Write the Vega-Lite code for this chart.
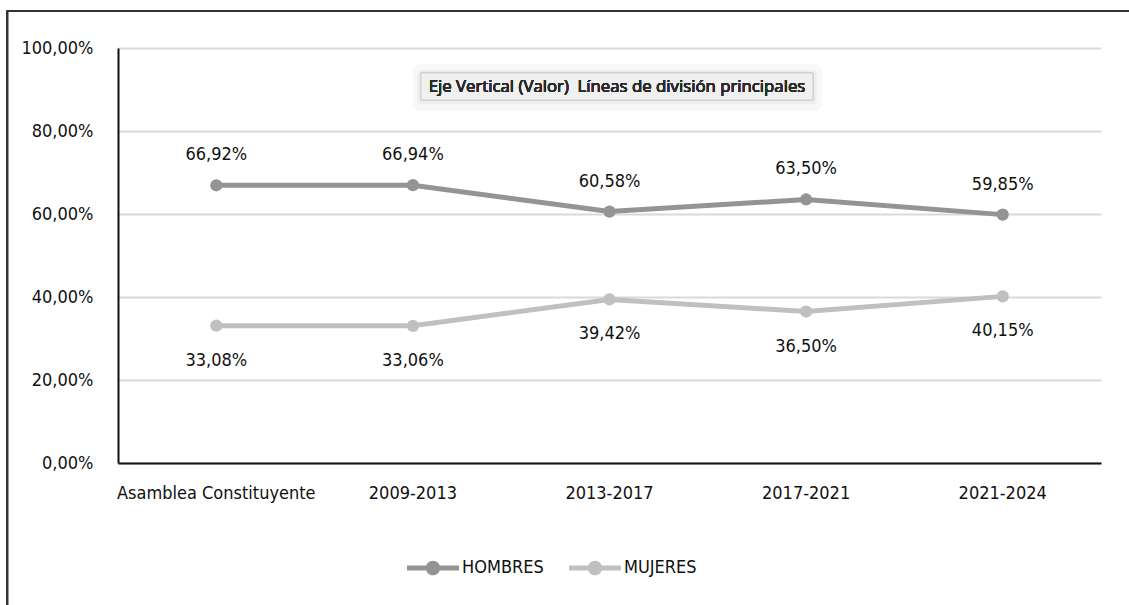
{
  "$schema": "https://vega.github.io/schema/vega-lite/v6.json",
  "width": 983,
  "height": 415,
  "autosize": "none",
  "padding": {"left": 118, "top": 48, "right": 28, "bottom": 142},
  "background": "white",
  "config": {
    "view": {"stroke": null},
    "font": "DejaVu Sans Condensed, Liberation Sans Narrow, sans-serif"
  },
  "datasets": {
    "serie": [
      {"periodo": "Asamblea Constituyente", "sexo": "HOMBRES", "valor": 66.92, "etiqueta": "66,92%"},
      {"periodo": "2009-2013", "sexo": "HOMBRES", "valor": 66.94, "etiqueta": "66,94%"},
      {"periodo": "2013-2017", "sexo": "HOMBRES", "valor": 60.58, "etiqueta": "60,58%"},
      {"periodo": "2017-2021", "sexo": "HOMBRES", "valor": 63.50, "etiqueta": "63,50%"},
      {"periodo": "2021-2024", "sexo": "HOMBRES", "valor": 59.85, "etiqueta": "59,85%"},
      {"periodo": "Asamblea Constituyente", "sexo": "MUJERES", "valor": 33.08, "etiqueta": "33,08%"},
      {"periodo": "2009-2013", "sexo": "MUJERES", "valor": 33.06, "etiqueta": "33,06%"},
      {"periodo": "2013-2017", "sexo": "MUJERES", "valor": 39.42, "etiqueta": "39,42%"},
      {"periodo": "2017-2021", "sexo": "MUJERES", "valor": 36.50, "etiqueta": "36,50%"},
      {"periodo": "2021-2024", "sexo": "MUJERES", "valor": 40.15, "etiqueta": "40,15%"}
    ]
  },
  "data": {"name": "serie"},
  "layer": [
    {
      "mark": {"type": "line", "strokeWidth": 5, "point": {"filled": true, "size": 150, "opacity": 1}},
      "encoding": {
        "x": {
          "field": "periodo",
          "type": "nominal",
          "sort": ["Asamblea Constituyente", "2009-2013", "2013-2017", "2017-2021", "2021-2024"],
          "bandPosition": 0.5,
          "scale": {"type": "band", "paddingInner": 0, "paddingOuter": 0, "domain": ["Asamblea Constituyente", "2009-2013", "2013-2017", "2017-2021", "2021-2024"]},
          "axis": {
            "title": null,
            "labelAngle": 0,
            "labelFontSize": 18,
            "labelColor": "#111111",
            "labelPadding": 21,
            "labelLimit": 0,
            "ticks": false,
            "tickSize": 0,
            "domainColor": "#111111",
            "domainWidth": 2,
            "grid": false
          }
        },
        "y": {
          "field": "valor",
          "type": "quantitative",
          "scale": {"domain": [0, 100], "nice": false},
          "axis": {
            "title": null,
            "values": [0, 20, 40, 60, 80, 100],
            "labelExpr": "replace(format(datum.value, '.2f'), '.', ',') + '%'",
            "labelFontSize": 18,
            "labelColor": "#111111",
            "labelPadding": 25,
            "ticks": false,
            "tickSize": 0,
            "domainColor": "#111111",
            "domainWidth": 2,
            "gridColor": "#d9d9d9",
            "gridWidth": 2
          }
        },
        "color": {
          "field": "sexo",
          "type": "nominal",
          "scale": {"domain": ["HOMBRES", "MUJERES"], "range": ["#949494", "#c0c0c0"]},
          "legend": {
            "title": null,
            "orient": "none",
            "direction": "horizontal",
            "legendX": 289,
            "legendY": 494,
            "padding": 0,
            "columnPadding": 25,
            "labelFontSize": 18,
            "labelColor": "#111111",
            "labelOffset": 3,
            "symbolType": "M-1,-0.1L1,-0.1L1,0.1L-1,0.1Z M-0.28,0A0.28,0.28 0 1,1 0.28,0A0.28,0.28 0 1,1 -0.28,0Z",
            "symbolSize": 2704,
            "symbolStrokeWidth": 0,
            "encode": {
              "symbols": {
                "update": {
                  "fill": {"scale": "color", "field": "value"},
                  "fillOpacity": {"value": 1},
                  "strokeWidth": {"value": 0}
                }
              }
            }
          }
        }
      }
    },
    {
      "mark": {"type": "rule", "stroke": "#333333", "strokeWidth": 1.5},
      "encoding": {
        "x": {"datum": "Asamblea Constituyente", "bandPosition": -0.563},
        "x2": {"datum": "2021-2024", "bandPosition": 1.2},
        "y": {"datum": 109.0}
      }
    },
    {
      "mark": {"type": "rule", "stroke": "#333333", "strokeWidth": 1.5},
      "encoding": {
        "x": {"datum": "Asamblea Constituyente", "bandPosition": -0.563},
        "y": {"datum": 109.0},
        "y2": {"datum": -36}
      }
    },
    {
      "mark": {"type": "rect", "fill": "#f8f8f8", "cornerRadius": 8},
      "encoding": {
        "x": {"datum": "2009-2013", "bandPosition": 0.50},
        "x2": {"datum": "2017-2021", "bandPosition": 0.58},
        "y": {"datum": 96.0},
        "y2": {"datum": 84.8}
      }
    },
    {
      "mark": {"type": "rect", "fill": "#eeeeee", "cornerRadius": 4},
      "encoding": {
        "x": {"datum": "2009-2013", "bandPosition": 0.525},
        "x2": {"datum": "2017-2021", "bandPosition": 0.552},
        "y": {"datum": 94.6},
        "y2": {"datum": 86.5}
      }
    },
    {
      "mark": {"type": "rect", "fill": "#f0f0f0", "stroke": "#d0d0d0", "strokeWidth": 1},
      "encoding": {
        "x": {"datum": "2009-2013", "bandPosition": 0.541},
        "x2": {"datum": "2017-2021", "bandPosition": 0.535},
        "y": {"datum": 93.98},
        "y2": {"datum": 87.47}
      }
    },
    {
      "mark": {"type": "text", "font": "Open Sans", "fontSize": 16.8, "fontWeight": 400, "color": "#2a2a2a", "baseline": "middle", "align": "center"},
      "encoding": {
        "x": {"datum": "2013-2017", "bandPosition": 0.538},
        "y": {"datum": 90.7},
        "text": {"value": "Eje Vertical (Valor)\u00a0 Líneas de división principales"}
      }
    },
    {
      "transform": [{"filter": "datum.sexo === 'HOMBRES'"}],
      "mark": {"type": "text", "fontSize": 18, "color": "#111111", "baseline": "alphabetic", "align": "center", "dy": -25},
      "encoding": {
        "x": {"field": "periodo", "type": "nominal", "sort": ["Asamblea Constituyente", "2009-2013", "2013-2017", "2017-2021", "2021-2024"], "bandPosition": 0.5},
        "y": {"field": "valor", "type": "quantitative"},
        "text": {"field": "etiqueta"}
      }
    },
    {
      "transform": [{"filter": "datum.sexo === 'MUJERES'"}],
      "mark": {"type": "text", "fontSize": 18, "color": "#111111", "baseline": "alphabetic", "align": "center", "dy": 40},
      "encoding": {
        "x": {"field": "periodo", "type": "nominal", "sort": ["Asamblea Constituyente", "2009-2013", "2013-2017", "2017-2021", "2021-2024"], "bandPosition": 0.5},
        "y": {"field": "valor", "type": "quantitative"},
        "text": {"field": "etiqueta"}
      }
    }
  ]
}
